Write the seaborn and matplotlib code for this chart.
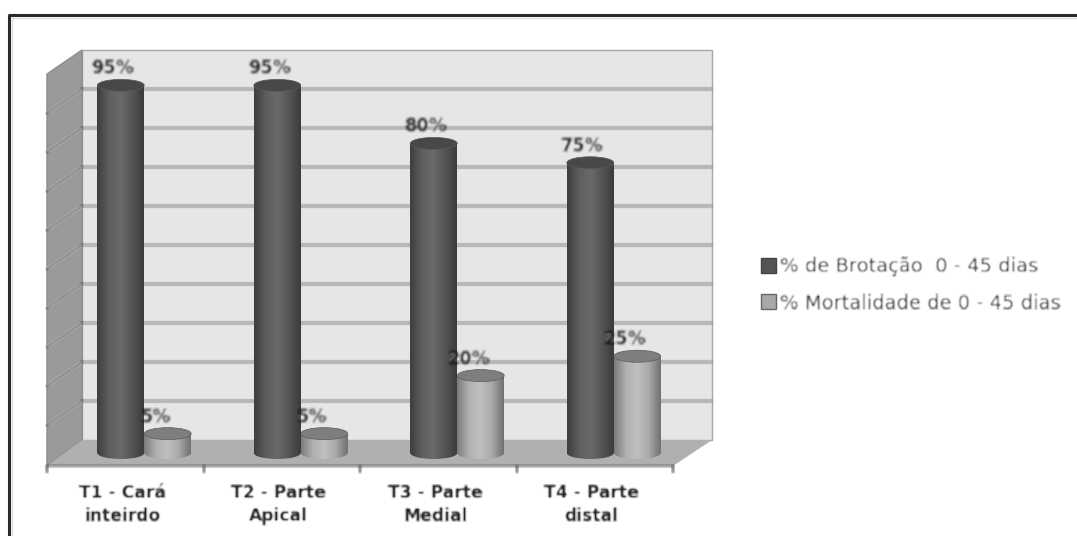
import numpy as np
import pandas as pd
import matplotlib
matplotlib.use('Agg')
import matplotlib.pyplot as plt
import seaborn as sns
from matplotlib.patches import Ellipse, Polygon, Patch
from matplotlib.colors import LinearSegmentedColormap
from matplotlib.transforms import ScaledTranslation

categories = ['T1 - Cará\ninteirdo', 'T2 - Parte\nApical', 'T3 - Parte\nMedial', 'T4 - Parte\ndistal']
series_names = ['% de Brotação  0 - 45 dias', '% Mortalidade de 0 - 45 dias']
brotacao = [95, 95, 80, 75]
mortalidade = [5, 5, 20, 25]

W, H = 1077, 536
TEXT = '#222222'


def blur(image, dpi):
    # soft look of the scanned picture, small box blur on a padded copy
    pad = 4
    out = np.pad(image, ((pad, pad), (pad, pad), (0, 0)))
    out = (out + np.roll(out, 1, 0) + np.roll(out, -1, 0)) / 3
    out = (out + np.roll(out, 1, 1) + np.roll(out, -1, 1)) / 3
    return out, -pad, -pad


sns.set_style('white')
plt.rcParams['font.family'] = ['DejaVu Sans']

fig = plt.figure(figsize=(W / 100, H / 100), dpi=100, facecolor='white')

# background: frame, walls and floor in pixel coordinates
bg = fig.add_axes([0, 0, 1, 1])
bg.set_xlim(0, W)
bg.set_ylim(H, 0)
bg.axis('off')
bg.plot([9, 9, W], [H, 15, 15], color='#2a2a2a', lw=2.2)
bg.plot([12, 12, W], [H, 18, 18], color='#dddddd', lw=1)
bg.add_patch(Polygon([(82, 50), (712, 50), (712, 440), (82, 440)], fc='#e6e6e6', ec='#a8a8a8', lw=1))
bg.add_patch(Polygon([(47, 74), (82, 50), (82, 440), (47, 466)], fc='#9a9a9a', ec='#8c8c8c', lw=1))
bg.add_patch(Polygon([(82, 440), (712, 440), (673, 466), (47, 466)], fc='#b0b0b0', ec='none'))
for i in range(1, 10):
    gy = 50 + i * 39
    bg.plot([82, 712], [gy, gy], color='#a4a4a4', lw=1.6, agg_filter=blur)
    bg.plot([47, 82], [gy + 24, gy], color='#848484', lw=1.3, agg_filter=blur)
bg.plot([47, 673], [466, 466], color='#8c8c8c', lw=1.5, agg_filter=blur)
for tx in np.linspace(47, 673, 5):
    bg.plot([tx, tx], [466, 472], color='#8c8c8c', lw=1.4, agg_filter=blur)

# data axes: y=0 at pixel 453, y=100 at pixel 66
ax = fig.add_axes([66 / W, 1 - 453 / H, 626 / W, 387 / H])
ax.patch.set_alpha(0)

df = pd.DataFrame({
    'cat': categories * 2,
    'serie': [series_names[0]] * 4 + [series_names[1]] * 4,
    'valor': brotacao + mortalidade,
})
sns.barplot(data=df, x='cat', y='valor', hue='serie', ax=ax, width=0.6, gap=0,
            palette=['#555555', '#a8a8a8'], legend=False)
ax.set_xlabel('')
ax.set_ylabel('')
ax.set_yticks([])
sns.despine(ax=ax, left=True, bottom=True)

dark = LinearSegmentedColormap.from_list('d', ['#3e3e3e', '#5e5e5e', '#6a6a6a', '#555555', '#3c3c3c'])
light = LinearSegmentedColormap.from_list('l', ['#7c7c7c', '#b0b0b0', '#c0c0c0', '#a8a8a8', '#727272'])
grad = np.linspace(0, 1, 64).reshape(1, -1)
ell_h = 12 / 3.87  # ellipse height in data units

for container, cmap, top_col, z, off_x in zip(ax.containers, [dark, light], ['#484848', '#7e7e7e'], [4, 3], [-8, -12]):
    for bar in container:
        x0, w, v = bar.get_x(), bar.get_width(), bar.get_height()
        bar.set_visible(False)
        base = Ellipse((x0 + w / 2, 0), w, ell_h, transform=ax.transData, fc='none', ec='none')
        ax.add_patch(base)
        im = ax.imshow(grad, cmap=cmap, extent=(x0, x0 + w, -ell_h, ell_h), aspect='auto', zorder=z)
        im.set_clip_box(fig.bbox)
        im.set_clip_path(base)
        ax.imshow(grad, cmap=cmap, extent=(x0, x0 + w, 0, v), aspect='auto', zorder=z)
        ax.add_patch(Ellipse((x0 + w / 2, v), w, ell_h, fc=top_col, ec='#5a5a5a', lw=0.5, zorder=z + 0.1))
        ax.annotate(f'{v:.0f}%', (x0 + w / 2, v), xytext=(off_x * 0.72, 8 * 0.72), textcoords='offset points',
                    ha='center', va='bottom', fontsize=12.8, fontweight='bold', color=TEXT,
                    zorder=6, annotation_clip=False, agg_filter=blur)

ax.set_xlim(-0.5, 3.5)
ax.set_ylim(0, 100)
ax.tick_params(axis='x', length=0, pad=22)
offset = ScaledTranslation(-22 / 100, 0, fig.dpi_scale_trans)
for label in ax.get_xticklabels():
    label.set_transform(label.get_transform() + offset)
    label.set_fontsize(12.3)
    label.set_fontweight('bold')
    label.set_color(TEXT)
    label.set_linespacing(1.38)
    label.set_agg_filter(blur)

handles = [Patch(fc='#555555', ec='#444444'), Patch(fc='#a8a8a8', ec='#666666')]
leg = ax.legend(handles, series_names, loc='upper left', bbox_to_anchor=(761 / W, 1 - 257 / H),
                bbox_transform=fig.transFigure, frameon=False, fontsize=14, handlelength=0.78,
                handleheight=0.78, handletextpad=0.2, labelspacing=0.9, borderpad=0, borderaxespad=0)
for t in leg.get_texts():
    t.set_color('#3c3c3c')
    t.set_agg_filter(blur)

fig.savefig('out.png', dpi=100)
